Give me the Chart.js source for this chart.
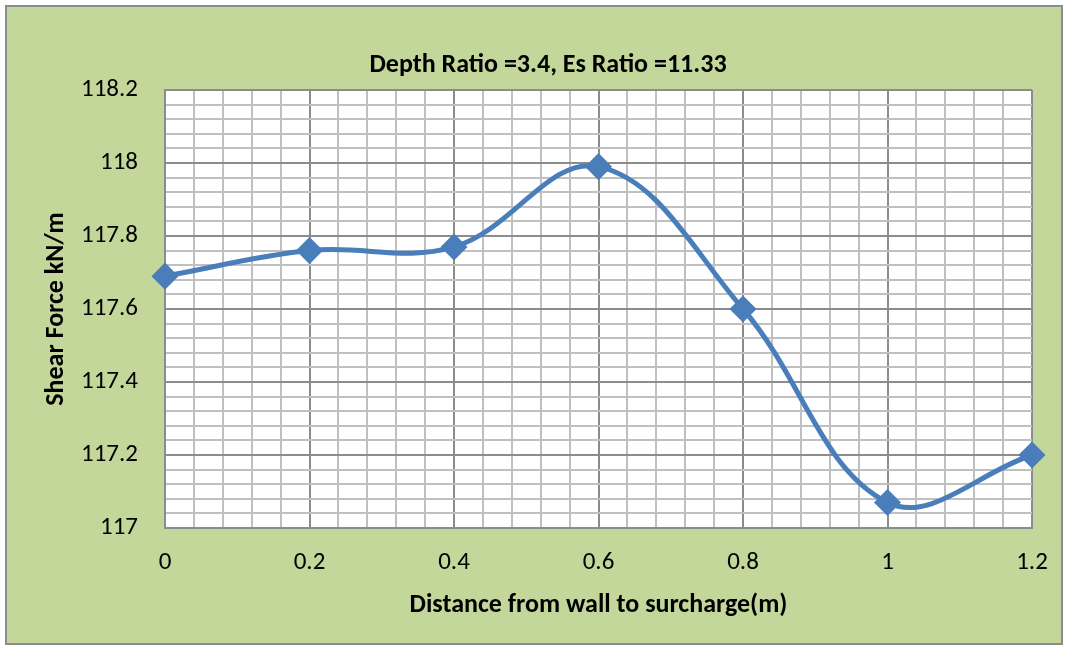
<!DOCTYPE html>
<html>
<head>
<meta charset="utf-8">
<script src="https://cdn.jsdelivr.net/npm/chart.js@4.4.1/dist/chart.umd.min.js"></script>
<style>
  html, body { margin: 0; padding: 0; background: #ffffff; }
  #frame {
    position: absolute; left: 5px; top: 5px; width: 1058px; height: 640px;
    box-sizing: border-box; border: 2px solid #8c8c8c; background: #c4d79b;
  }
  #wrap { position: absolute; left: 0; top: 0; width: 1068px; height: 649px; }
</style>
</head>
<body>
<div id="frame"></div>
<div id="wrap"><canvas id="chart" width="1068" height="649"></canvas></div>
<script>
// ---------------- DATA ----------------
const chartTitle = "Depth Ratio =3.4, Es Ratio =11.33";
const xTitle = "Distance from wall to surcharge(m)";
const yTitle = "Shear Force kN/m";
const distances = [0, 0.2, 0.4, 0.6, 0.8, 1.0, 1.2];
const shearForce = [117.69, 117.76, 117.77, 117.99, 117.6, 117.07, 117.2];

const FONT = "Carlito, Calibri, Lato, sans-serif";
const LINE_BLUE = "#4a7ebb";

function isMajor(v) {
  return Math.abs(v * 5 - Math.round(v * 5)) < 1e-6;
}
function fmt(v) {
  return String(Number(v.toFixed(1)));
}
function gridColor(ctx) {
  return ctx.tick && isMajor(ctx.tick.value) ? "#8c8c8c" : "#c0c0c0";
}

// ---------------- PLOT BG + TITLE ----------------
const framePlugin = {
  id: "frameBits",
  beforeDraw(c) {
    const a = c.chartArea;
    c.ctx.save();
    c.ctx.fillStyle = "#ffffff";
    c.ctx.fillRect(a.left, a.top, a.right - a.left, a.bottom - a.top);
    c.ctx.restore();
  },
  afterDraw(c) {
    const ctx = c.ctx;
    ctx.save();
    ctx.font = "bold 26px " + FONT;
    ctx.fillStyle = "#000";
    ctx.textAlign = "center";
    ctx.textBaseline = "middle";
    ctx.fillText(chartTitle, 548, 65);
    ctx.restore();
  }
};

// ---------------- CHART ----------------
const points = distances.map((d, i) => ({ x: d, y: shearForce[i] }));

new Chart(document.getElementById("chart"), {
  type: "line",
  data: {
    datasets: [{
      data: points,
      borderColor: LINE_BLUE,
      backgroundColor: LINE_BLUE,
      borderWidth: 5,
      tension: 0.38,
      pointStyle: "rectRot",
      pointRadius: 10,
      pointHoverRadius: 10,
      clip: false
    }]
  },
  options: {
    responsive: false,
    animation: false,
    layout: { padding: { left: 0, right: 36, top: 90, bottom: 0 } },
    plugins: {
      legend: { display: false },
      tooltip: { enabled: false }
    },
    scales: {
      x: {
        type: "linear",
        min: 0,
        max: 1.2,
        afterFit: s => { s.height = 121; },
        afterBuildTicks: s => {
          s.ticks = [];
          for (let i = 0; i <= 30; i++) s.ticks.push({ value: +(i * 0.04).toFixed(2) });
        },
        ticks: {
          autoSkip: false,
          maxRotation: 0,
          padding: 20,
          color: "#000",
          font: { family: FONT, size: 25 },
          callback: v => isMajor(v) ? fmt(v) : ""
        },
        grid: { color: gridColor, lineWidth: 2, drawTicks: false },
        border: { color: "#8c8c8c", width: 2 },
        title: {
          display: true,
          text: xTitle,
          color: "#000",
          font: { family: FONT, size: 26, weight: "bold" },
          padding: { top: 0, bottom: 28 }
        }
      },
      y: {
        min: 117,
        max: 118.2,
        afterFit: s => { s.width = 165; },
        afterBuildTicks: s => {
          s.ticks = [];
          for (let i = 0; i <= 30; i++) s.ticks.push({ value: +(117 + i * 0.04).toFixed(2) });
        },
        ticks: {
          autoSkip: false,
          padding: 27,
          color: "#000",
          font: { family: FONT, size: 25 },
          callback: v => isMajor(v) ? fmt(v) : ""
        },
        grid: { color: gridColor, lineWidth: 2, drawTicks: false },
        border: { color: "#8c8c8c", width: 2 },
        title: {
          display: true,
          text: yTitle,
          color: "#000",
          font: { family: FONT, size: 26, weight: "bold" },
          padding: { top: 41, bottom: 0 }
        }
      }
    }
  },
  plugins: [framePlugin]
});
</script>
</body>
</html>
